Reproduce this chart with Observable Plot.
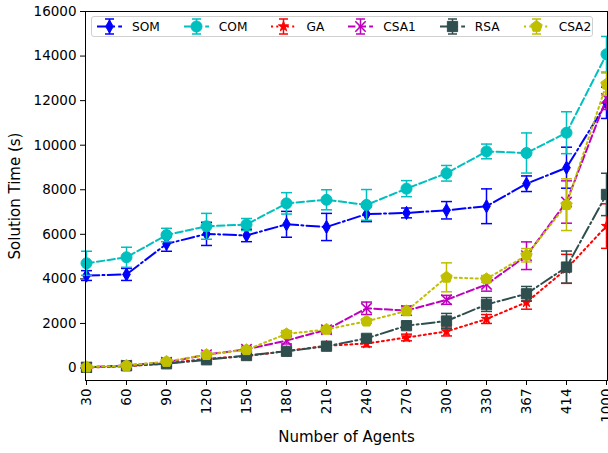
<!DOCTYPE html>
<html>
<head>
<meta charset="utf-8">
<script src="https://cdn.jsdelivr.net/npm/d3@7"></script>
<script src="https://cdn.jsdelivr.net/npm/@observablehq/plot@0.6"></script>
<style>
  html, body { margin: 0; padding: 0; background: white; }
  #wrap { position: relative; width: 608px; height: 453px; overflow: hidden; font-family: "DejaVu Sans", sans-serif; }
  #legend { position: absolute; left: 91px; top: 16px; width: 502px; height: 21px; border: 1px solid #d0d0d0; border-radius: 3px;
            background: rgba(255,255,255,0.85); display: flex; align-items: center; gap: 24px; padding: 0 0 0 5px; box-sizing: border-box;
            font-size: 12.2px; color: #000; }
  .item { display: flex; align-items: center; gap: 10px; }
  .item svg { display: block; }
</style>
</head>
<body>
<div id="wrap"><div id="chart"></div><div id="legend"></div></div>
<script>
// ---- data ----
const agents = ["30","60","90","120","150","180","210","240","270","300","330","367","414","1000"];
const yTicks = [0, 2000, 4000, 6000, 8000, 10000, 12000, 14000, 16000];

const somMean = [4150, 4200, 5570, 6020, 5950, 6450, 6330, 6910, 6960, 7080, 7260, 8270, 8990, 11900];
const somErr  = [220, 270, 330, 520, 280, 580, 610, 340, 220, 390, 780, 350, 920, 700];

const comMean = [4700, 4970, 5970, 6360, 6440, 7390, 7550, 7320, 8050, 8740, 9720, 9650, 10560, 14080];
const comErr  = [540, 450, 300, 580, 270, 480, 450, 690, 360, 350, 330, 900, 940, 800];

const gaMean = [20, 80, 200, 420, 530, 760, 1000, 1100, 1370, 1640, 2200, 2950, 4450, 6370];
const gaErr  = [50, 80, 100, 120, 150, 150, 150, 150, 150, 200, 200, 310, 650, 1000];

const csa1Mean = [30, 120, 260, 600, 840, 1230, 1720, 2680, 2580, 3060, 3750, 5040, 7450, 12100];
const csa1Err  = [40, 60, 80, 100, 100, 150, 150, 280, 200, 200, 300, 620, 950, 500];

const rsaMean = [30, 100, 190, 370, 560, 750, 980, 1330, 1900, 2110, 2850, 3330, 4530, 7790];
const rsaErr  = [40, 60, 80, 100, 100, 100, 100, 150, 150, 340, 310, 330, 720, 950];

const csa2Mean = [40, 110, 290, 600, 820, 1530, 1730, 2100, 2560, 4070, 4000, 5060, 7330, 12740];
const csa2Err  = [40, 60, 80, 100, 100, 150, 100, 100, 150, 650, 150, 300, 1160, 500];

// ---- symbols ----
const pentagon = {
  draw(ctx, size) {
    const R = Math.sqrt(size / 2.3776);
    for (let k = 0; k < 5; k++) {
      const a = -Math.PI / 2 + k * 2 * Math.PI / 5;
      const x = R * Math.cos(a), y = R * Math.sin(a);
      if (k === 0) ctx.moveTo(x, y); else ctx.lineTo(x, y);
    }
    ctx.closePath();
  }
};
const capSym = {
  draw(ctx, size) {
    const r = Math.sqrt(size / Math.PI);
    ctx.moveTo(-r, 0); ctx.lineTo(r, 0);
  }
};

const styles = [
  {name: "SOM",  mean: somMean,  err: somErr,  color: "#0000ff", dash: "12.8,3.2,2,3.2", sym: d3.symbolDiamond, r: 4,   stroked: false},
  {name: "COM",  mean: comMean,  err: comErr,  color: "#00bfbf", dash: "7.4,3.2",        sym: d3.symbolCircle,  r: 5.5, stroked: false},
  {name: "GA",   mean: gaMean,   err: gaErr,   color: "#ff0000", dash: "2,3.3",          sym: d3.symbolStar,    r: 3.2, stroked: false},
  {name: "CSA1", mean: csa1Mean, err: csa1Err, color: "#bf00bf", dash: "7.4,3.2",        sym: d3.symbolTimes,   r: 4.8, stroked: true},
  {name: "RSA",  mean: rsaMean,  err: rsaErr,  color: "#2f4f4f", dash: "12.8,3.2,2,3.2", sym: d3.symbolSquare,  r: 5.8, stroked: false},
  {name: "CSA2", mean: csa2Mean, err: csa2Err, color: "#bfbf00", dash: "2,3.3",          sym: pentagon,         r: 5.2, stroked: false}
];

const marks = [];
for (const s of styles) {
  const rows = agents.map((a, i) => ({agent: a, v: s.mean[i], lo: s.mean[i] - s.err[i], hi: s.mean[i] + s.err[i]}));
  marks.push(
    Plot.ruleX(rows, {x: "agent", y1: "lo", y2: "hi", stroke: s.color, strokeWidth: 1.5}),
    Plot.dot(rows, {x: "agent", y: "lo", symbol: capSym, r: 5.5, stroke: s.color, fill: "none", strokeWidth: 1.5}),
    Plot.dot(rows, {x: "agent", y: "hi", symbol: capSym, r: 5.5, stroke: s.color, fill: "none", strokeWidth: 1.5}),
    Plot.line(rows, {x: "agent", y: "v", stroke: s.color, strokeWidth: 2, strokeDasharray: s.dash}),
    s.stroked
      ? Plot.dot(rows, {x: "agent", y: "v", symbol: s.sym, r: s.r, stroke: s.color, fill: "none", strokeWidth: 1.6})
      : Plot.dot(rows, {x: "agent", y: "v", symbol: s.sym, r: s.r, fill: s.color, stroke: s.color, strokeWidth: 1})
  );
}

const chart = Plot.plot({
  width: 608,
  height: 453,
  marginLeft: 85,
  marginRight: 1,
  marginTop: 11,
  marginBottom: 73,
  style: {fontFamily: "DejaVu Sans", fontSize: "13.5px", color: "#000", background: "white", overflow: "hidden"},
  x: {type: "point", domain: agents, padding: 0},
  y: {domain: [-560, 16000]},
  marks: [
    Plot.axisX({tickRotate: -90, tickSize: 5, tickPadding: 3, label: null, stroke: "#000"}),
    Plot.axisY({ticks: yTicks, tickSize: 5, tickPadding: 4, label: null, tickFormat: d => String(d), stroke: "#000"}),
    ...marks,
    Plot.frame({stroke: "#000", strokeWidth: 1}),
    Plot.text(["Number of Agents"], {frameAnchor: "bottom", dy: 57, fontSize: 15, textAnchor: "middle", lineAnchor: "middle"}),
    Plot.text(["Solution Time (s)"], {frameAnchor: "left", dx: -70, rotate: -90, fontSize: 15, textAnchor: "middle", lineAnchor: "middle"})
  ]
});
document.getElementById("chart").appendChild(chart);

// ---- legend ----
const legend = d3.select("#legend");
for (const s of styles) {
  const item = legend.append("div").attr("class", "item");
  const svg = item.append("svg").attr("width", 25).attr("height", 19);
  svg.append("line").attr("x1", 0).attr("x2", 25).attr("y1", 9.5).attr("y2", 9.5)
    .attr("stroke", s.color).attr("stroke-width", 2).attr("stroke-dasharray", s.dash);
  svg.append("line").attr("x1", 12.5).attr("x2", 12.5).attr("y1", 2).attr("y2", 17).attr("stroke", s.color).attr("stroke-width", 1.5);
  svg.append("line").attr("x1", 8).attr("x2", 17).attr("y1", 2).attr("y2", 2).attr("stroke", s.color).attr("stroke-width", 1.5);
  svg.append("line").attr("x1", 8).attr("x2", 17).attr("y1", 17).attr("y2", 17).attr("stroke", s.color).attr("stroke-width", 1.5);
  const p = svg.append("path").attr("transform", "translate(12.5,9.5)")
    .attr("d", d3.symbol(s.sym, Math.PI * s.r * s.r)());
  if (s.stroked) p.attr("fill", "none").attr("stroke", s.color).attr("stroke-width", 1.6);
  else p.attr("fill", s.color).attr("stroke", s.color);
  item.append("span").text(s.name);
}
</script>
</body>
</html>
